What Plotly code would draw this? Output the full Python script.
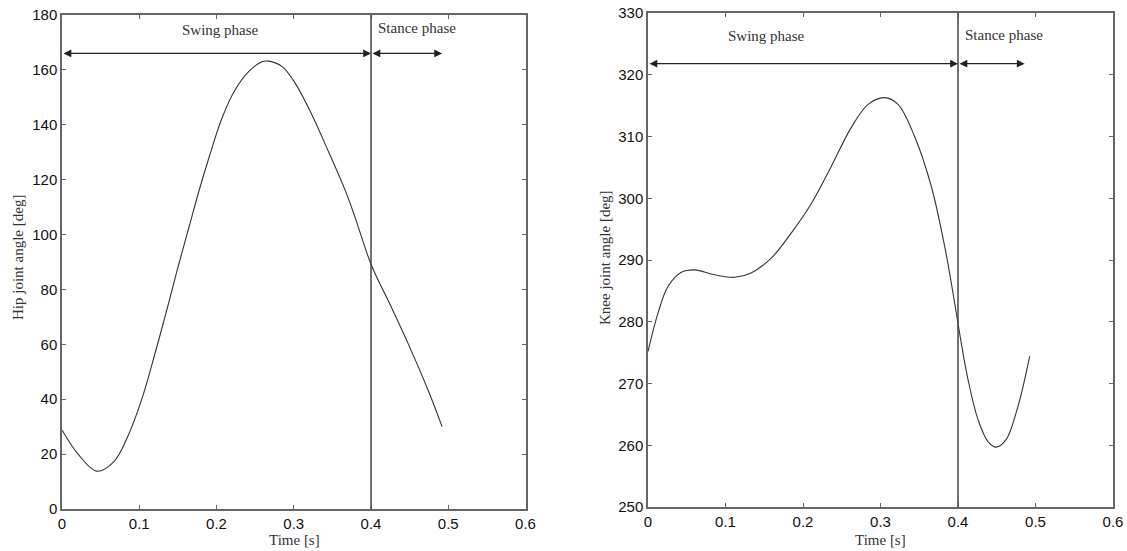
import plotly.graph_objects as go

# Hip joint angle (left panel)
hip_t = [0, 0.0216, 0.045, 0.067, 0.086, 0.1036, 0.121, 0.138, 0.151, 0.164, 0.177, 0.19,
         0.207, 0.224, 0.2416, 0.259, 0.2675, 0.285, 0.302, 0.3236, 0.345, 0.3668, 0.3797,
         0.4004, 0.423, 0.4488, 0.4746, 0.492]
hip_deg = [28.8, 19.7, 13.8, 17.2, 27, 40.3, 57.3, 75.0, 89.0, 102.3, 115.6, 127.8,
           142.4, 152.7, 159.4, 163, 163.2, 161.2, 155.1, 143.6, 130.2, 116.0, 106.0,
           88.9, 75.5, 59.8, 42.8, 30]

# Knee joint angle (right panel)
knee_t = [0, 0.0129, 0.0258, 0.043, 0.060, 0.086, 0.112, 0.133, 0.159, 0.185, 0.211, 0.2366,
          0.262, 0.284, 0.305, 0.3226, 0.344, 0.3656, 0.3828, 0.3935, 0.402, 0.413, 0.426,
          0.4387, 0.4495, 0.462, 0.4774, 0.4925]
knee_deg = [275.2, 281.4, 285.7, 288, 288.4, 287.6, 287.2, 287.9, 290.3, 294.4, 299.2, 305.2,
            311.4, 315.2, 316.3, 315.2, 310, 301.9, 292.2, 284.7, 278.2, 270.6, 264.1,
            260.6, 259.7, 260.9, 266.3, 274.4]

x_ticks = [0, 0.1, 0.2, 0.3, 0.4, 0.5, 0.6]
x_tick_labels = ["0", "0.1", "0.2", "0.3", "0.4", "0.5", "0.6"]
hip_ticks = [0, 20, 40, 60, 80, 100, 120, 140, 160, 180]
knee_ticks = [250, 260, 270, 280, 290, 300, 310, 320, 330]
phase_boundary = 0.4

W, H = 1127, 551
fig = go.Figure()
fig.add_trace(go.Scatter(x=hip_t, y=hip_deg, mode="lines", line=dict(color="#333", width=1.1, shape="spline", smoothing=1.0),
                         xaxis="x", yaxis="y", showlegend=False))
fig.add_trace(go.Scatter(x=knee_t, y=knee_deg, mode="lines", line=dict(color="#333", width=1.1, shape="spline", smoothing=1.0),
                         xaxis="x2", yaxis="y2", showlegend=False))

tickfont = dict(family="Liberation Sans, Arial", size=15, color="#111")
axcommon = dict(showline=True, linecolor="#666", linewidth=1.5, mirror="allticks", ticks="inside",
                ticklen=4, tickcolor="#666", showgrid=False, zeroline=False, tickfont=tickfont,
                automargin=False)

fig.update_layout(
    width=W, height=H, margin=dict(l=0, r=0, t=0, b=0, pad=0),
    paper_bgcolor="white", plot_bgcolor="white",
    xaxis=dict(domain=[62 / W, 525.5 / W], range=[0, 0.6], tickvals=x_ticks, ticktext=x_tick_labels,
               anchor="y", **axcommon),
    yaxis=dict(domain=[1 - 509 / H, 1 - 15 / H], range=[0, 180], tickvals=hip_ticks, anchor="x", **axcommon),
    xaxis2=dict(domain=[648 / W, 1113 / W], range=[0, 0.6], tickvals=x_ticks, ticktext=x_tick_labels,
                anchor="y2", **axcommon),
    yaxis2=dict(domain=[1 - 507 / H, 1 - 13 / H], range=[250, 330], tickvals=knee_ticks, anchor="x2", **axcommon),
)

# phase boundary lines
fig.add_shape(type="line", xref="x", yref="y", x0=phase_boundary, x1=phase_boundary, y0=0, y1=180,
              line=dict(color="#444", width=1.5))
fig.add_shape(type="line", xref="x2", yref="y2", x0=phase_boundary, x1=phase_boundary, y0=250, y1=330,
              line=dict(color="#444", width=1.5))

serif = dict(family="Liberation Serif, DejaVu Serif", size=15, color="#333")

def double_arrow(xr, yr, x0, x1, y):
    fig.add_annotation(xref=xr, yref=yr, axref=xr, ayref=yr, x=x1, y=y, ax=x0, ay=y, text="",
                       showarrow=True, arrowhead=2, startarrowhead=2, arrowside="end+start",
                       arrowsize=1.3, startarrowsize=1.3, arrowwidth=1.2, arrowcolor="#222",
                       standoff=0, startstandoff=0)

double_arrow("x", "y", 0.0, phase_boundary, 166)
double_arrow("x", "y", phase_boundary, 0.492, 166)
double_arrow("x2", "y2", 0.0, phase_boundary, 321.8)
double_arrow("x2", "y2", phase_boundary, 0.486, 321.8)

fig.add_annotation(xref="x", yref="y", x=0.205, y=174.5, text="Swing phase", showarrow=False, font=serif,
                   xanchor="center", yanchor="middle")
fig.add_annotation(xref="x", yref="y", x=0.406, y=175.4, text="Stance phase", showarrow=False, font=serif,
                   xanchor="left", yanchor="middle")
fig.add_annotation(xref="x2", yref="y2", x=0.153, y=326.3, text="Swing phase", showarrow=False, font=serif,
                   xanchor="center", yanchor="middle")
fig.add_annotation(xref="x2", yref="y2", x=0.407, y=326.4, text="Stance phase", showarrow=False, font=serif,
                   xanchor="left", yanchor="middle")

# axis titles
fig.add_annotation(xref="paper", yref="paper", x=18 / W, y=1 - 258 / H, text="Hip joint angle [deg]",
                   showarrow=False, textangle=-90, font=serif, xanchor="center", yanchor="middle")
fig.add_annotation(xref="paper", yref="paper", x=605 / W, y=1 - 258 / H, text="Knee joint angle [deg]",
                   showarrow=False, textangle=-90, font=serif, xanchor="center", yanchor="middle")
fig.add_annotation(xref="paper", yref="paper", x=294 / W, y=1 - 540 / H, text="Time [s]",
                   showarrow=False, font=serif, xanchor="center", yanchor="middle")
fig.add_annotation(xref="paper", yref="paper", x=880 / W, y=1 - 540 / H, text="Time [s]",
                   showarrow=False, font=serif, xanchor="center", yanchor="middle")

fig.write_html("out.html", config={"displayModeBar": False},
               post_script="document.body.style.margin='0';document.body.style.padding='0';document.body.style.overflow='hidden';")
